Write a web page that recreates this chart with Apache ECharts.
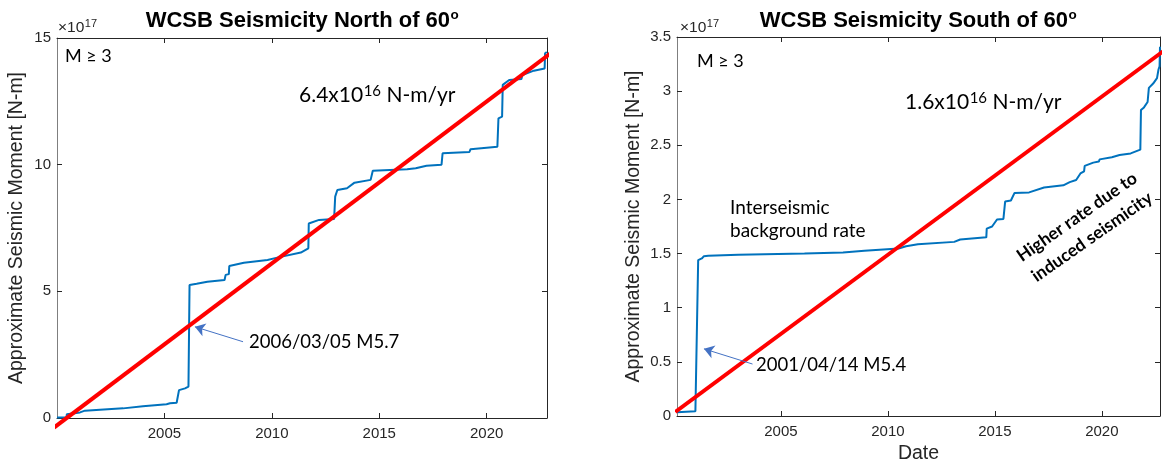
<!DOCTYPE html>
<html>
<head>
<meta charset="utf-8">
<script src="https://cdn.jsdelivr.net/npm/echarts@6/dist/echarts.min.js"></script>
<style>
html,body{margin:0;padding:0;background:#fff;}
#c{width:1166px;height:465px;}
</style>
</head>
<body>
<div id="c"></div>
<script>
// ---------- data ----------
const xTickYears = [2005, 2010, 2015, 2020];
const northYTicks = [0, 5, 10, 15];
const southYTicks = [0, 0.5, 1, 1.5, 2, 2.5, 3, 3.5];
const northXRange = [2000.0, 2022.81];
const southXRange = [2000.14, 2022.72];

// cumulative moment (x10^17 N-m), North of 60
const northYears = [2000.0, 2000.44, 2000.46, 2001.07, 2001.3, 2002.0, 2003.08, 2004.0, 2005.1, 2005.26, 2005.57, 2005.66,
  2005.68, 2005.96, 2006.12, 2006.15, 2006.17, 2006.5, 2007.0, 2007.8, 2007.85, 2008.0, 2008.02, 2008.7, 2009.8,
  2010.3, 2011.35, 2011.7, 2011.72, 2012.2, 2012.9, 2012.95, 2013.05, 2013.5, 2013.85, 2014.6, 2014.7, 2016.3,
  2016.7, 2017.2, 2017.9, 2017.95, 2019.2, 2019.25, 2020.5, 2020.55, 2020.72, 2020.75, 2021.05, 2021.62, 2021.66,
  2022.2, 2022.7, 2022.72, 2022.8];
const northMoment = [0.02, 0.03, 0.15, 0.22, 0.29, 0.33, 0.38, 0.46, 0.54, 0.58, 0.60, 0.62,
  1.10, 1.17, 1.24, 1.30, 5.25, 5.30, 5.38, 5.45, 5.65, 5.68, 6.00, 6.13, 6.24,
  6.34, 6.53, 6.70, 7.68, 7.82, 7.86, 8.74, 9.00, 9.07, 9.29, 9.40, 9.76, 9.82,
  9.86, 9.96, 10.00, 10.45, 10.50, 10.61, 10.71, 11.83, 11.90, 13.15, 13.34, 13.38, 13.54,
  13.71, 13.80, 14.40, 14.45];
const northFitYears = [1999.86, 2022.99];
const northFitMoment = [-0.38, 14.40];
const northArrow = [[2008.66, 3.01], [2006.42, 3.6]];

// cumulative moment (x10^17 N-m), South of 60
const southYears = [2000.14, 2001.0, 2001.08, 2001.13, 2001.3, 2001.4, 2001.6, 2003.0, 2006.1, 2007.9, 2008.9,
  2010.5, 2010.85, 2011.4, 2013.1, 2013.38, 2014.6, 2014.62, 2014.87, 2015.1, 2015.4, 2015.48, 2015.75, 2015.92,
  2016.6, 2017.3, 2018.2, 2018.5, 2018.8, 2019.0, 2019.17, 2019.2, 2019.6, 2019.86, 2019.9, 2020.47, 2020.83,
  2021.35, 2021.8, 2021.83, 2021.97, 2022.14, 2022.2, 2022.4, 2022.58, 2022.65, 2022.7, 2022.72];
const southMoment = [0.035, 0.045, 0.046, 1.44, 1.455, 1.476, 1.48, 1.49, 1.50, 1.51, 1.525,
  1.547, 1.568, 1.587, 1.608, 1.63, 1.65, 1.73, 1.75, 1.815, 1.82, 1.98, 1.99, 2.06,
  2.065, 2.11, 2.13, 2.16, 2.18, 2.24, 2.26, 2.31, 2.34, 2.35, 2.37, 2.39, 2.41,
  2.425, 2.46, 2.825, 2.85, 2.90, 3.03, 3.07, 3.12, 3.20, 3.23, 3.41];
const southFitYears = [2000.06, 2022.88];
const southFitMoment = [0.037, 3.37];
const southArrow = [[2003.67, 0.48], [2001.4, 0.62]];

// ---------- helpers ----------
const zip = (a, b) => a.map((v, i) => [v, b[i]]);
const AX = '#262626';
const TICKFONT = 'Liberation Sans';
const ANNO = 'Lato';
const KF = { 'Liberation Sans': 0.347, 'Lato': 0.387 };
const mctx = document.createElement('canvas').getContext('2d');
function measure(text, size, family, weight) {
  mctx.font = (weight || 'normal') + ' ' + size + 'px "' + family + '"';
  return mctx.measureText(text).width;
}

function xAxes(grid, range, top) {
  return {
    type: 'value', gridIndex: grid, position: top ? 'top' : 'bottom',
    min: range[0], max: range[1],
    axisLine: { show: true, onZero: false, lineStyle: { color: AX, width: 1 } },
    axisTick: { show: true, inside: true, length: 5, customValues: xTickYears, lineStyle: { color: AX } },
    axisLabel: { show: !top, customValues: xTickYears, color: AX, fontSize: 15, fontFamily: TICKFONT, margin: 8,
      formatter: v => String(v) },
    splitLine: { show: false }
  };
}
function yAxes(grid, ticks, right, name, gap) {
  const o = {
    type: 'value', gridIndex: grid, position: right ? 'right' : 'left',
    min: ticks[0], max: ticks[ticks.length - 1], interval: ticks[1] - ticks[0],
    axisLine: { show: true, onZero: false, lineStyle: { color: right ? AX : '#7f7f7f', width: 1 } },
    axisTick: { show: true, inside: true, length: 5, lineStyle: { color: AX } },
    axisLabel: { show: !right, color: AX, fontSize: 15, fontFamily: TICKFONT, margin: 6 },
    splitLine: { show: false }
  };
  if (name) {
    o.name = name; o.nameLocation = 'middle'; o.nameGap = gap; o.nameRotate = 90;
    o.nameTextStyle = { color: AX, fontSize: 19.5, fontFamily: TICKFONT };
  }
  return o;
}
// text placed by its left edge (or centre) and baseline
function txt(x, baseline, text, size, opt) {
  opt = opt || {};
  const fam = opt.family || ANNO;
  const el = {
    type: 'text', x: x, y: baseline - KF[fam] * size, silent: true,
    style: { text: text, fill: opt.color || '#000', fontSize: size, fontFamily: fam, fontWeight: opt.weight || 'normal',
      align: opt.align || 'left', textAlign: opt.align || 'left', verticalAlign: 'middle', textVerticalAlign: 'middle' }
  };
  if (opt.rotation !== undefined) { el.rotation = opt.rotation; el.y = baseline; }
  return el;
}
// main text followed by superscript and optional tail, placed by left edge
function supText(left, baseline, main, sup, tail, size, supSize, raise, fam, weight, color) {
  const out = [];
  const w1 = measure(main, size, fam, weight);
  const w2 = measure(sup, supSize, fam, weight);
  out.push(txt(left, baseline, main, size, { family: fam, weight: weight, color: color }));
  out.push(txt(left + w1 + 0.5, baseline - raise, sup, supSize, { family: fam, weight: weight, color: color }));
  if (tail) out.push(txt(left + w1 + w2 + 0.5, baseline, tail, size, { family: fam, weight: weight, color: color }));
  return out;
}
function titleEls(cx, main) {
  const w = measure(main, 22, TICKFONT, 'bold') + measure('o', 13.5, TICKFONT, 'bold');
  return supText(cx - w / 2, 28.3, main, 'o', null, 22, 13.5, 8.3, TICKFONT, 'bold', '#000');
}
function arrowLine(pts) {
  return {
    silent: true, symbol: ['none', 'arrow'], symbolSize: 10, animation: false,
    label: { show: false }, emphasis: { disabled: true },
    lineStyle: { color: '#4472C4', width: 1, type: 'solid' },
    itemStyle: { color: '#4472C4' },
    data: [[{ coord: pts[0] }, { coord: pts[1] }]]
  };
}

const graphics = [].concat(
  titleEls(302, 'WCSB Seismicity North of 60'),
  titleEls(918, 'WCSB Seismicity South of 60'),
  supText(58, 33.5, '\u00d710', '17', null, 15.5, 11, 5.5, TICKFONT, 'normal', AX),
  supText(680, 33.5, '\u00d710', '17', null, 15.5, 11, 5.5, TICKFONT, 'normal', AX),
  [txt(65, 63.3, 'M \u2265 3', 18), txt(697, 68.3, 'M \u2265 3', 18)],
  supText(299, 103, '6.4x10', '16', ' N-m/yr', 21, 15, 6.5, ANNO, 'normal', '#000'),
  supText(905, 110, '1.6x10', '16', ' N-m/yr', 21, 15, 6.5, ANNO, 'normal', '#000'),
  [
    txt(249, 349, '2006/03/05 M5.7', 18.5),
    txt(756, 372, '2001/04/14 M5.4', 18.5),
    txt(730, 215, 'Interseismic', 19),
    txt(730, 238, 'background rate', 19),
    txt(1077, 217, 'Higher rate due to', 17.5, { rotation: 0.61, weight: 'bold', align: 'center' }),
    txt(1092, 237, 'induced seismicity', 17.5, { rotation: 0.61, weight: 'bold', align: 'center' })
  ]
);

const chart = echarts.init(document.getElementById('c'), null, { renderer: 'canvas' });
chart.setOption({
  backgroundColor: '#ffffff',
  animation: false,
  grid: [
    { left: 57, top: 38, width: 490, height: 380, outerBoundsMode: 'none', containLabel: false },
    { left: 677, top: 37, width: 483, height: 379, outerBoundsMode: 'none', containLabel: false }
  ],
  xAxis: [
    xAxes(0, northXRange, false), xAxes(0, northXRange, true),
    Object.assign(xAxes(1, southXRange, false), { name: 'Date', nameLocation: 'middle', nameGap: 27,
      nameTextStyle: { color: AX, fontSize: 19.5, fontFamily: TICKFONT } }),
    xAxes(1, southXRange, true)
  ],
  yAxis: [
    yAxes(0, northYTicks, false, 'Approximate Seismic Moment [N-m]', 30), yAxes(0, northYTicks, true),
    yAxes(1, southYTicks, false, 'Approximate Seismic Moment [N-m]', 33), yAxes(1, southYTicks, true)
  ],
  series: [
    { type: 'line', xAxisIndex: 0, yAxisIndex: 0, data: zip(northYears, northMoment), showSymbol: false,
      lineStyle: { color: '#0072BD', width: 2 }, itemStyle: { color: '#0072BD' }, silent: true, z: 2 },
    { type: 'line', xAxisIndex: 0, yAxisIndex: 0, data: zip(northFitYears, northFitMoment), showSymbol: false, clip: false,
      lineStyle: { color: '#FF0000', width: 4 }, itemStyle: { color: '#FF0000' }, silent: true, z: 3,
      markLine: arrowLine(northArrow) },
    { type: 'line', xAxisIndex: 2, yAxisIndex: 2, data: zip(southYears, southMoment), showSymbol: false,
      lineStyle: { color: '#0072BD', width: 2 }, itemStyle: { color: '#0072BD' }, silent: true, z: 2 },
    { type: 'line', xAxisIndex: 2, yAxisIndex: 2, data: zip(southFitYears, southFitMoment), showSymbol: false, clip: false,
      lineStyle: { color: '#FF0000', width: 4 }, itemStyle: { color: '#FF0000' }, silent: true, z: 3,
      markLine: arrowLine(southArrow) }
  ],
  graphic: graphics
});
</script>
</body>
</html>
